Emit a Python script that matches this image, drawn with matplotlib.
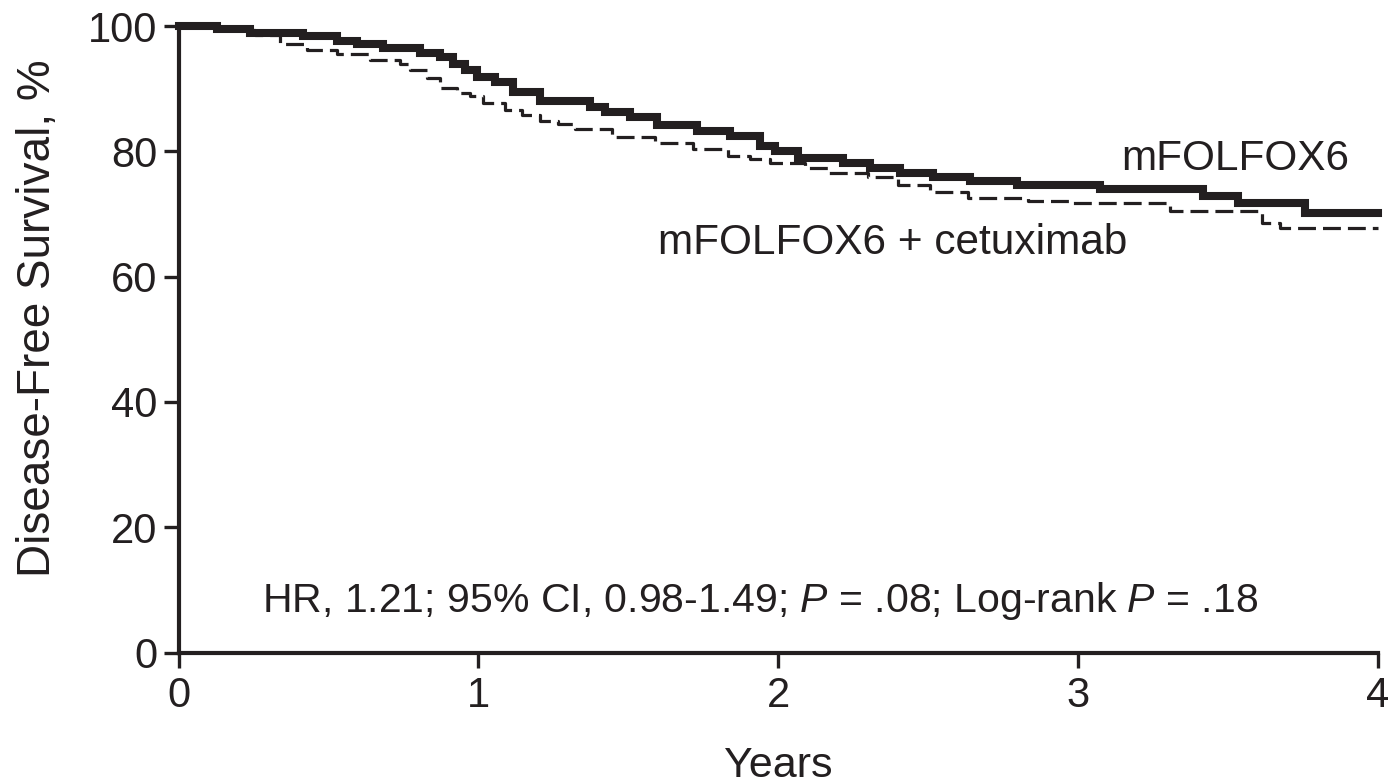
import matplotlib
matplotlib.use("Agg")
import matplotlib.pyplot as plt

# ---- data ----
years_solid = [0.000, 0.128, 0.238, 0.415, 0.528, 0.595, 0.682, 0.805, 0.872, 0.915,
               0.955, 0.995, 1.055, 1.115, 1.205, 1.372, 1.422, 1.505, 1.595, 1.728,
               1.838, 1.938, 1.988, 2.065, 2.215, 2.305, 2.405, 2.515, 2.638, 2.795,
               3.072, 3.415, 3.532, 3.755, 4.000]
dfs_solid = [100.0, 99.6, 98.9, 98.4, 97.6, 97.1, 96.5, 95.7, 95.0, 94.0,
             93.0, 91.8, 91.1, 89.5, 88.0, 87.1, 86.3, 85.5, 84.2, 83.2,
             82.4, 80.8, 80.0, 78.9, 78.1, 77.3, 76.5, 75.9, 75.3, 74.6,
             74.0, 72.9, 71.7, 70.2, 70.2]

years_dash = [0.000, 0.140, 0.255, 0.340, 0.428, 0.528, 0.638, 0.738, 0.772, 0.828,
              0.872, 0.928, 0.972, 1.015, 1.088, 1.145, 1.205, 1.265, 1.322, 1.445,
              1.588, 1.715, 1.832, 1.905, 1.972, 2.088, 2.165, 2.298, 2.398, 2.505,
              2.632, 2.832, 2.972, 3.305, 3.612, 3.672, 4.000]
dfs_dash = [100.0, 99.3, 98.5, 97.1, 96.2, 95.6, 94.6, 94.0, 93.0, 91.7,
            90.1, 89.3, 88.8, 87.7, 86.6, 85.8, 84.8, 84.3, 83.5, 82.3,
            81.3, 80.4, 79.2, 78.7, 78.1, 77.3, 76.5, 75.9, 74.6, 73.5,
            72.5, 72.0, 71.7, 70.4, 68.6, 67.7, 67.7]

x_ticks = [0, 1, 2, 3, 4]
y_ticks = [0, 20, 40, 60, 80, 100]
label_solid = "mFOLFOX6"
label_dash = "mFOLFOX6 + cetuximab"
stats_text = r"HR, 1.21; 95% CI, 0.98-1.49; $\it{P}$ = .08; Log-rank $\it{P}$ = .18"
x_label = "Years"
y_label = "Disease-Free Survival, %"

# ---- style ----
INK = "#231f20"
plt.rcParams["font.family"] = ["Liberation Sans", "DejaVu Sans"]
plt.rcParams["mathtext.fontset"] = "custom"
plt.rcParams["mathtext.rm"] = "Liberation Sans"
plt.rcParams["mathtext.it"] = "Liberation Sans:italic"

W, H = 1398, 782
fig = plt.figure(figsize=(W / 100, H / 100), dpi=100)
ax = fig.add_axes([178.5 / W, 1 - 652.5 / H, 1199.5 / W, 626.5 / H])

ax.step(years_solid, dfs_solid, where="post", color=INK, lw=5.8,
        solid_joinstyle="miter", clip_on=False, zorder=3)
ax.step(years_dash, dfs_dash, where="post", color=INK, lw=2.3,
        dashes=(5.6, 2.2), clip_on=False, zorder=3)

ax.set_xlim(0, 4)
ax.set_ylim(0, 100)
ax.set_xticks(x_ticks)
ax.set_yticks(y_ticks)

for side in ("top", "right"):
    ax.spines[side].set_visible(False)
for side in ("left", "bottom"):
    ax.spines[side].set_linewidth(3.0)
    ax.spines[side].set_color(INK)

ax.tick_params(axis="both", direction="out", length=11, width=2.4,
               color=INK, labelcolor=INK, labelsize=30)
ax.tick_params(axis="x", pad=6)
ax.tick_params(axis="y", pad=4)

ax.text(1.94, 6.5, stats_text, ha="center", va="baseline", fontsize=29.5, color=INK)
ax.text(3.145, 77.0, label_solid, ha="left", va="baseline", fontsize=30.5, color=INK)
ax.text(1.600, 63.6, label_dash, ha="left", va="baseline", fontsize=30.5, color=INK)

fig.text(778 / W, 1 - 766 / H, x_label, ha="center", va="center", fontsize=31, color=INK)
fig.text(38 / W, 1 - 318 / H, y_label, ha="center", va="center", rotation=90,
         fontsize=33, color=INK)

fig.savefig("out.png", dpi=100)
